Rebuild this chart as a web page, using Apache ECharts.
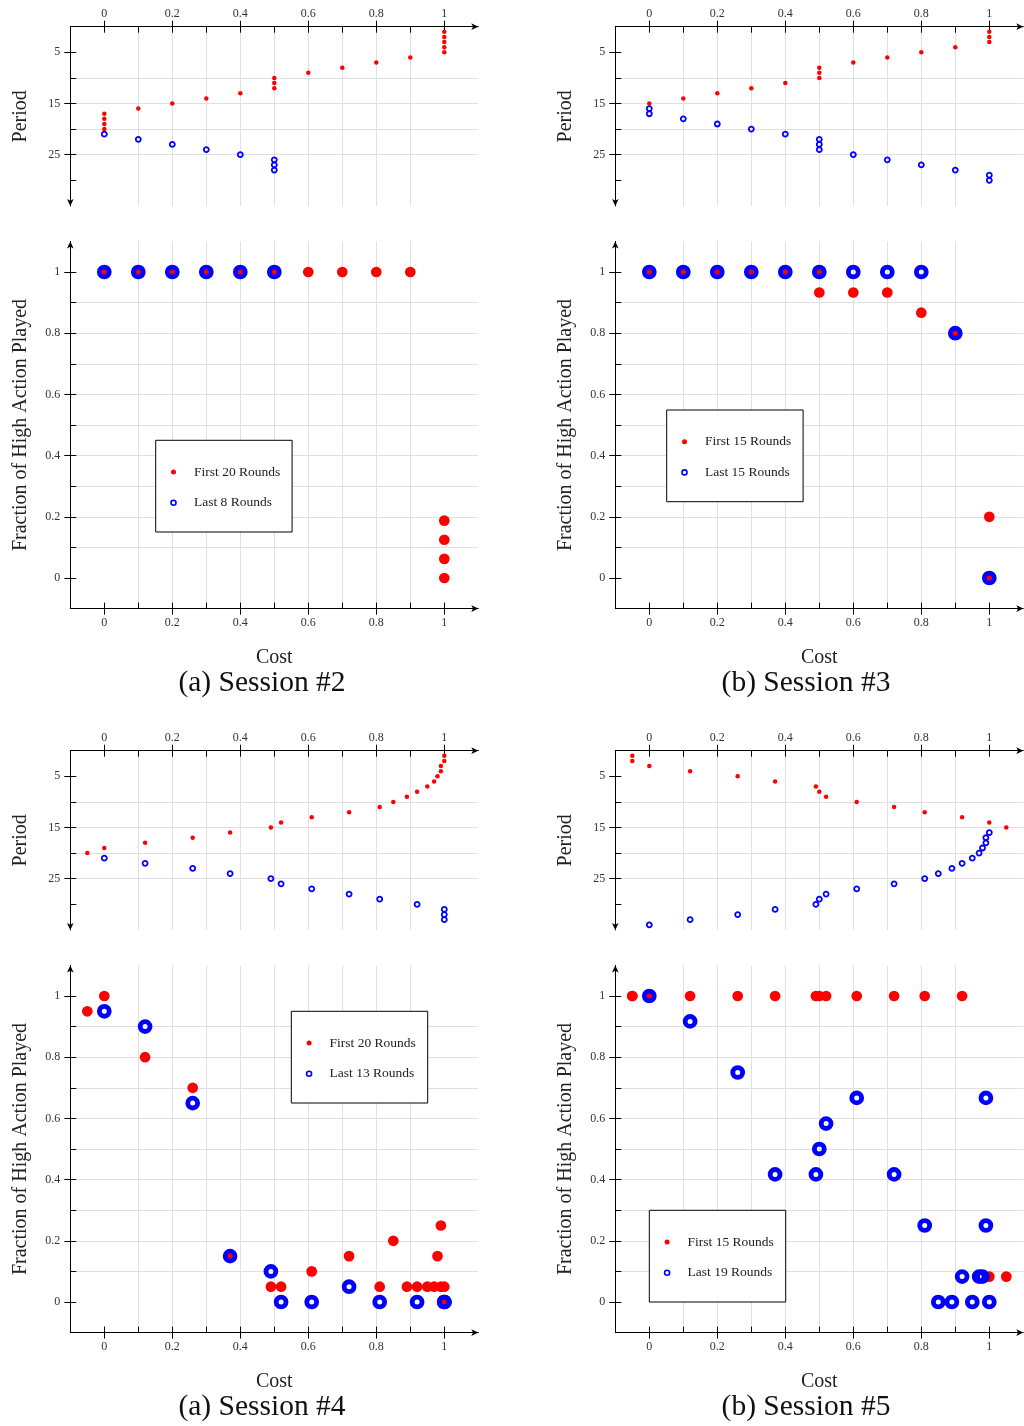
<!DOCTYPE html>
<html>
<head>
<meta charset="utf-8">
<script src="https://cdn.jsdelivr.net/npm/echarts@6/dist/echarts.min.js"></script>
<style>
  html, body { margin: 0; padding: 0; background: #fff; }
  .panel { position: absolute; width: 512px; height: 724px; }
</style>
</head>
<body>
<div id="s2" class="panel" style="left:0;top:0"></div>
<div id="s3" class="panel" style="left:512px;top:0"></div>
<div id="s4" class="panel" style="left:0;top:724px;height:702px"></div>
<div id="s5" class="panel" style="left:512px;top:724px;height:702px"></div>
<script>
// ---- axis ticks and labels ----
const costTicks = [0, 0.1, 0.2, 0.3, 0.4, 0.5, 0.6, 0.7, 0.8, 0.9, 1];
const costLabels = [0, 0.2, 0.4, 0.6, 0.8, 1];
const periodTicks = [5, 10, 15, 20, 25, 30];
const periodLabels = [5, 15, 25];
const fracTicks = [0, 0.1, 0.2, 0.3, 0.4, 0.5, 0.6, 0.7, 0.8, 0.9, 1];
const fracLabels = [0, 0.2, 0.4, 0.6, 0.8, 1];

// ---- Session #2 ----
const s2FirstCost   = [1, 1, 1, 1, 1, 0.9, 0.8, 0.7, 0.6, 0.5, 0.5, 0.5, 0.4, 0.3, 0.2, 0.1, 0, 0, 0, 0];
const s2FirstPeriod = [1, 2, 3, 4, 5, 6, 7, 8, 9, 10, 11, 12, 13, 14, 15, 16, 17, 18, 19, 20];
const s2LastCost    = [0, 0.1, 0.2, 0.3, 0.4, 0.5, 0.5, 0.5];
const s2LastPeriod  = [21, 22, 23, 24, 25, 26, 27, 28];
const s2FracFirstCost = [0, 0.1, 0.2, 0.3, 0.4, 0.5, 0.6, 0.7, 0.8, 0.9, 1, 1, 1, 1];
const s2FracFirst     = [1, 1, 1, 1, 1, 1, 1, 1, 1, 1, 0.1875, 0.125, 0.0625, 0];
const s2FracLastCost  = [0, 0.1, 0.2, 0.3, 0.4, 0.5];
const s2FracLast      = [1, 1, 1, 1, 1, 1];

// ---- Session #3 ----
const s3FirstCost   = [1, 1, 1, 0.9, 0.8, 0.7, 0.6, 0.5, 0.5, 0.5, 0.4, 0.3, 0.2, 0.1, 0];
const s3FirstPeriod = [1, 2, 3, 4, 5, 6, 7, 8, 9, 10, 11, 12, 13, 14, 15];
const s3LastCost    = [0, 0, 0.1, 0.2, 0.3, 0.4, 0.5, 0.5, 0.5, 0.6, 0.7, 0.8, 0.9, 1, 1];
const s3LastPeriod  = [16, 17, 18, 19, 20, 21, 22, 23, 24, 25, 26, 27, 28, 29, 30];
const s3FracFirstCost = [0, 0.1, 0.2, 0.3, 0.4, 0.5, 0.5, 0.6, 0.7, 0.8, 0.9, 1, 1];
const s3FracFirst     = [1, 1, 1, 1, 1, 1, 0.933, 0.933, 0.933, 0.867, 0.8, 0.2, 0];
const s3FracLastCost  = [0, 0.1, 0.2, 0.3, 0.4, 0.5, 0.6, 0.7, 0.8, 0.9, 1];
const s3FracLast      = [1, 1, 1, 1, 1, 1, 1, 1, 1, 0.8, 0];

// ---- Session #4 ----
const s4FirstCost   = [1, 1, 0.99, 0.99, 0.98, 0.97, 0.95, 0.92, 0.89, 0.85, 0.81, 0.72, 0.61, 0.52, 0.49, 0.37, 0.26, 0.12, 0, -0.05];
const s4FirstPeriod = [1, 2, 3, 4, 5, 6, 7, 8, 9, 10, 11, 12, 13, 14, 15, 16, 17, 18, 19, 20];
const s4LastCost    = [0, 0.12, 0.26, 0.37, 0.49, 0.52, 0.61, 0.72, 0.81, 0.92, 1, 1, 1];
const s4LastPeriod  = [21, 22, 23, 24, 25, 26, 27, 28, 29, 30, 31, 32, 33];
const s4FracFirstCost = [-0.05, 0, 0.12, 0.26, 0.37, 0.49, 0.52, 0.61, 0.72, 0.81, 0.85, 0.89, 0.92, 0.95, 0.97, 0.98, 0.99, 0.99, 1, 1];
const s4FracFirst     = [0.95, 1, 0.8, 0.7, 0.15, 0.05, 0.05, 0.1, 0.15, 0.05, 0.2, 0.05, 0.05, 0.05, 0.05, 0.15, 0.25, 0.05, 0.05, 0];
const s4FracLastCost  = [0, 0.12, 0.26, 0.37, 0.49, 0.52, 0.61, 0.72, 0.81, 0.92, 1, 1, 1];
const s4FracLast      = [0.95, 0.9, 0.65, 0.15, 0.1, 0, 0, 0.05, 0, 0, 0, 0, 0];

// ---- Session #5 ----
const s5FirstCost   = [-0.05, -0.05, 0, 0.12, 0.26, 0.37, 0.49, 0.5, 0.52, 0.61, 0.72, 0.81, 0.92, 1, 1.05];
const s5FirstPeriod = [1, 2, 3, 4, 5, 6, 7, 8, 9, 10, 11, 12, 13, 14, 15];
const s5LastCost    = [1, 0.99, 0.99, 0.98, 0.97, 0.95, 0.92, 0.89, 0.85, 0.81, 0.72, 0.61, 0.52, 0.5, 0.49, 0.37, 0.26, 0.12, 0];
const s5LastPeriod  = [16, 17, 18, 19, 20, 21, 22, 23, 24, 25, 26, 27, 28, 29, 30, 31, 32, 33, 34];
const s5FracFirstCost = [-0.05, -0.05, 0, 0.12, 0.26, 0.37, 0.49, 0.5, 0.52, 0.61, 0.72, 0.81, 0.92, 1, 1.05];
const s5FracFirst     = [1, 1, 1, 1, 1, 1, 1, 1, 1, 1, 1, 1, 1, 0.083, 0.083];
const s5FracLastCost  = [0, 0.12, 0.26, 0.37, 0.49, 0.5, 0.52, 0.61, 0.72, 0.81, 0.85, 0.89, 0.92, 0.95, 0.97, 0.98, 0.99, 0.99, 1];
const s5FracLast      = [1, 0.917, 0.75, 0.417, 0.417, 0.5, 0.583, 0.667, 0.417, 0.25, 0, 0, 0.083, 0, 0.083, 0.083, 0.667, 0.25, 0];

// ---- styling ----
const FONT = "'Liberation Serif', 'DejaVu Serif', serif";
const AXIS_COLOR = '#000';
const GRID_COLOR = '#e0e0e0';
const RED = '#ff0000';
const BLUE = '#0000ff';

function pairs(xs, ys) { return xs.map((x, i) => [x, ys[i]]); }
function fmtTenths(v) {
  const r = Math.round(v * 10);
  return (r >= 0 && r <= 10 && r % 2 === 0) ? String(r / 10) : '';
}
function fmtPeriod(v) {
  const r = Math.round(v);
  return periodLabels.indexOf(r) >= 0 ? String(r) : '';
}

// o: gridIndex, position, min, max, interval, inverse, major, minor, fmt, margin, name, nameGap, aux
function valueAxis(o) {
  const base = {
    type: 'value', gridIndex: o.gridIndex, position: o.position,
    min: o.min, max: o.max, interval: o.interval, inverse: !!o.inverse
  };
  if (o.aux) {
    // inward half of every tick mark, plus the light grid lines
    return Object.assign(base, {
      axisLine: { show: false, onZero: false },
      axisLabel: { show: false },
      splitLine: { show: true, showMinLine: false, showMaxLine: false,
                   lineStyle: { color: GRID_COLOR, width: 1 } },
      axisTick: { show: true, inside: true, length: 6, customValues: o.minor,
                  lineStyle: { color: AXIS_COLOR, width: 1 } }
    });
  }
  return Object.assign(base, {
    name: o.name || '', nameLocation: 'middle', nameGap: o.nameGap || 0,
    nameTextStyle: { fontFamily: FONT, fontSize: 20, color: '#222' },
    axisLine: { show: true, onZero: false,
                symbol: o.inverse ? ['arrow', 'none'] : ['none', 'arrow'], symbolSize: [5, 7],
                lineStyle: { color: AXIS_COLOR, width: 1 } },
    axisTick: { show: true, inside: false, length: 6, customValues: o.major,
                lineStyle: { color: AXIS_COLOR, width: 1 } },
    axisLabel: { show: true, customValues: o.major, formatter: o.fmt, margin: o.margin,
                 fontFamily: FONT, fontSize: 12, color: '#333' },
    splitLine: { show: false }
  });
}

function panelOption(s) {
  const W = 408;
  const topRect = { left: s.left, top: 26.7, width: W, height: 179.2, outerBoundsMode: 'none' };
  const botRect = { left: s.left, top: 241.4, width: W, height: 367.2, outerBoundsMode: 'none' };
  const costAxis = { min: -0.1, max: 1.1, interval: 0.1, major: costLabels, minor: costTicks, fmt: fmtTenths };
  const perAxis = { min: 0, max: 35, interval: 5, inverse: true, major: periodLabels, minor: periodTicks, fmt: fmtPeriod };
  const fracAxis = { min: -0.1, max: 1.1, interval: 0.1, major: fracLabels, minor: fracTicks, fmt: fmtTenths };
  const box = s.box;
  const solid = { opacity: 1 };
  return {
    animation: false,
    grid: [Object.assign({}, topRect), Object.assign({}, botRect), topRect, botRect],
    xAxis: [
      valueAxis(Object.assign({ gridIndex: 0, position: 'top', margin: 7 }, costAxis)),
      valueAxis(Object.assign({ gridIndex: 1, position: 'bottom', margin: 8, name: 'Cost', nameGap: 39 }, costAxis)),
      valueAxis(Object.assign({ gridIndex: 2, position: 'top', aux: true }, costAxis)),
      valueAxis(Object.assign({ gridIndex: 3, position: 'bottom', aux: true }, costAxis))
    ],
    yAxis: [
      valueAxis(Object.assign({ gridIndex: 0, position: 'left', margin: 10, name: 'Period', nameGap: 40 }, perAxis)),
      valueAxis(Object.assign({ gridIndex: 1, position: 'left', margin: 10, name: 'Fraction of High Action Played', nameGap: 40 }, fracAxis)),
      valueAxis(Object.assign({ gridIndex: 2, position: 'left', aux: true }, perAxis)),
      valueAxis(Object.assign({ gridIndex: 3, position: 'left', aux: true }, fracAxis))
    ],
    legend: {
      left: box.x + 14.5, top: box.y + 24.7, orient: 'vertical', padding: 0, itemGap: 16.7,
      itemWidth: 31, itemHeight: 5, symbolKeepAspect: true, z: 6,
      textStyle: { fontFamily: FONT, fontSize: 13.5, color: '#222', lineHeight: 14 },
      data: [
        { name: s.firstName, icon: 'circle', itemStyle: { color: RED, borderWidth: 0, opacity: 1 } },
        { name: s.lastName, icon: 'circle', itemStyle: { color: '#fff', borderColor: BLUE, borderWidth: 1.6, opacity: 1 } }
      ]
    },
    graphic: [
      { type: 'rect', z: 5, shape: { x: box.x, y: box.y, width: 136.4, height: 91.7 },
        style: { fill: '#fff', stroke: '#000', lineWidth: 1 } },
      { type: 'text', z: 5, x: s.capX, y: 683,
        style: { text: s.caption, fontFamily: FONT, fontSize: 29.5, fill: '#111', align: 'center', verticalAlign: 'middle' } }
    ],
    series: [
      { name: s.firstName, type: 'scatter', xAxisIndex: 0, yAxisIndex: 0, symbol: 'circle', symbolSize: 4.5,
        itemStyle: Object.assign({ color: RED }, solid), data: pairs(s.firstCost, s.firstPeriod), silent: true },
      { name: s.lastName, type: 'scatter', xAxisIndex: 0, yAxisIndex: 0, symbol: 'circle', symbolSize: 5,
        itemStyle: Object.assign({ color: 'rgba(255,255,255,0)', borderColor: BLUE, borderWidth: 1.8 }, solid),
        data: pairs(s.lastCost, s.lastPeriod), silent: true },
      { name: s.firstName, type: 'scatter', xAxisIndex: 1, yAxisIndex: 1, symbol: 'circle', symbolSize: 10.7,
        itemStyle: Object.assign({ color: RED }, solid), data: pairs(s.fracFirstCost, s.fracFirst), silent: true },
      { name: s.lastName, type: 'scatter', xAxisIndex: 1, yAxisIndex: 1, symbol: 'circle', symbolSize: 9.85,
        itemStyle: Object.assign({ color: 'rgba(255,255,255,0)', borderColor: BLUE, borderWidth: 4.85 }, solid),
        data: pairs(s.fracLastCost, s.fracLast), silent: true }
    ]
  };
}

const sessions = [
  { el: 's2', left: 70.3, capX: 262, caption: '(a) Session #2', box: { x: 155.7, y: 440.3 },
    firstName: 'First 20 Rounds', lastName: 'Last 8 Rounds',
    firstCost: s2FirstCost, firstPeriod: s2FirstPeriod, lastCost: s2LastCost, lastPeriod: s2LastPeriod,
    fracFirstCost: s2FracFirstCost, fracFirst: s2FracFirst, fracLastCost: s2FracLastCost, fracLast: s2FracLast },
  { el: 's3', left: 103.3, capX: 294, caption: '(b) Session #3', box: { x: 154.7, y: 410 },
    firstName: 'First 15 Rounds', lastName: 'Last 15 Rounds',
    firstCost: s3FirstCost, firstPeriod: s3FirstPeriod, lastCost: s3LastCost, lastPeriod: s3LastPeriod,
    fracFirstCost: s3FracFirstCost, fracFirst: s3FracFirst, fracLastCost: s3FracLastCost, fracLast: s3FracLast },
  { el: 's4', left: 70.3, capX: 262, caption: '(a) Session #4', box: { x: 291.3, y: 287.3 },
    firstName: 'First 20 Rounds', lastName: 'Last 13 Rounds',
    firstCost: s4FirstCost, firstPeriod: s4FirstPeriod, lastCost: s4LastCost, lastPeriod: s4LastPeriod,
    fracFirstCost: s4FracFirstCost, fracFirst: s4FracFirst, fracLastCost: s4FracLastCost, fracLast: s4FracLast },
  { el: 's5', left: 103.3, capX: 294, caption: '(b) Session #5', box: { x: 137.3, y: 486.3 },
    firstName: 'First 15 Rounds', lastName: 'Last 19 Rounds',
    firstCost: s5FirstCost, firstPeriod: s5FirstPeriod, lastCost: s5LastCost, lastPeriod: s5LastPeriod,
    fracFirstCost: s5FracFirstCost, fracFirst: s5FracFirst, fracLastCost: s5FracLastCost, fracLast: s5FracLast }
];

sessions.forEach(s => {
  const chart = echarts.init(document.getElementById(s.el), null, { renderer: 'canvas' });
  chart.setOption(panelOption(s));
});
</script>
</body>
</html>
